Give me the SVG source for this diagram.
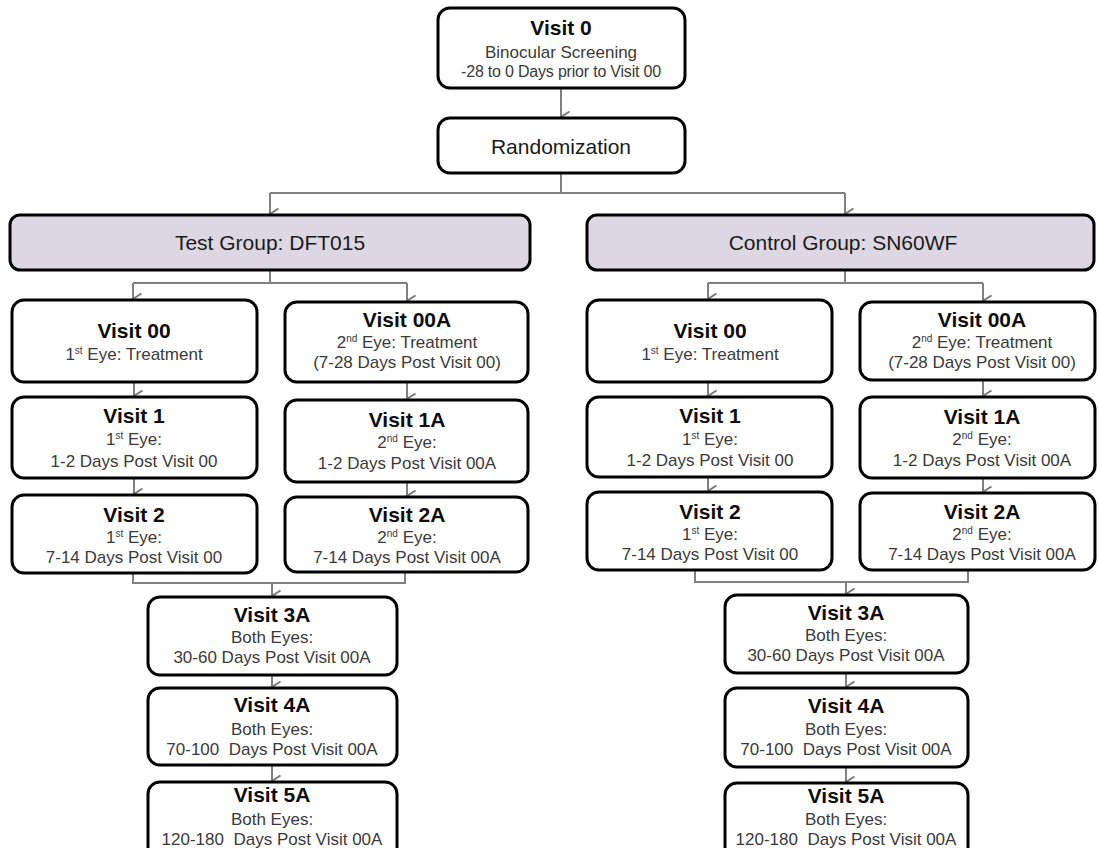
<svg xmlns="http://www.w3.org/2000/svg" width="1098" height="848" viewBox="0 0 1098 848">
<defs>
<style>
.box{fill:#ffffff;stroke:#000000;stroke-width:3}
.grp{fill:#dcd7e2;stroke:#000000;stroke-width:3}
.t{font-family:"Liberation Sans",Arial,sans-serif;font-weight:bold;font-size:21px;fill:#0d0d0d;text-anchor:middle}
.s{font-family:"Liberation Sans",Arial,sans-serif;font-size:17px;fill:#3a3a3a;text-anchor:middle}
.g{font-family:"Liberation Sans",Arial,sans-serif;font-size:21px;fill:#1a1a1a;text-anchor:middle}
.sup{font-size:10px}
.c{fill:none;stroke:#808080;stroke-width:2}
</style>
<marker id="ah" markerWidth="14" markerHeight="12" refX="7" refY="10" orient="auto-start-reverse" markerUnits="userSpaceOnUse" viewBox="0 0 14 12">
<path d="M1.5,1.5 L7,10 L12.5,1.5" fill="none" stroke="#7a7a7a" stroke-width="2"/>
</marker>
</defs>
<rect width="1098" height="848" fill="#ffffff"/>

<g id="connectors">
<path class="c" d="M561,88 V117" marker-end="url(#ah)"/>
<path class="c" d="M561,173 V193 M270,193 H845"/>
<path class="c" d="M270,193 V214" marker-end="url(#ah)"/>
<path class="c" d="M845,193 V214" marker-end="url(#ah)"/>
<path class="c" d="M270,270 V283 M133,283 H407"/>
<path class="c" d="M133,283 V299" marker-end="url(#ah)"/>
<path class="c" d="M407,283 V301" marker-end="url(#ah)"/>
<path class="c" d="M134,382 V396" marker-end="url(#ah)"/>
<path class="c" d="M134,478 V494" marker-end="url(#ah)"/>
<path class="c" d="M407,382 V399" marker-end="url(#ah)"/>
<path class="c" d="M407,482 V496" marker-end="url(#ah)"/>
<path class="c" d="M133,573 V583 H405 V572"/>
<path class="c" d="M272,583 V596" marker-end="url(#ah)"/>
<path class="c" d="M272,675 V687" marker-end="url(#ah)"/>
<path class="c" d="M272,765 V781" marker-end="url(#ah)"/>
<path class="c" d="M845,270 V283 M708,283 H983"/>
<path class="c" d="M708,283 V299" marker-end="url(#ah)"/>
<path class="c" d="M983,283 V301" marker-end="url(#ah)"/>
<path class="c" d="M708,382 V396" marker-end="url(#ah)"/>
<path class="c" d="M708,477 V491" marker-end="url(#ah)"/>
<path class="c" d="M983,380 V396" marker-end="url(#ah)"/>
<path class="c" d="M983,478 V492" marker-end="url(#ah)"/>
<path class="c" d="M695,570 V582 H968 V570"/>
<path class="c" d="M846,582 V594" marker-end="url(#ah)"/>
<path class="c" d="M846,673 V687" marker-end="url(#ah)"/>
<path class="c" d="M846,767 V782" marker-end="url(#ah)"/>
</g>

<g id="visit0">
<rect class="box" x="438" y="8" width="247" height="80" rx="12"/>
<text class="t" x="561" y="35">Visit 0</text>
<text class="s" x="561" y="58">Binocular Screening</text>
<text class="s" x="561" y="77" style="font-size:16px;letter-spacing:-0.2px">-28 to 0 Days prior to Visit 00</text>
</g>
<g id="randomization">
<rect class="box" x="438" y="118" width="247" height="55" rx="12"/>
<text class="g" x="561" y="154">Randomization</text>
</g>

<g id="test-group">
<rect class="grp" x="10" y="215" width="520" height="55" rx="10"/>
<text class="g" x="270" y="250">Test Group: DFT015</text>
</g>
<g id="control-group">
<rect class="grp" x="587" y="215" width="507" height="55" rx="10"/>
<text class="g" x="843" y="250">Control Group: SN60WF</text>
</g>

<g id="t-visit00">
<rect class="box" x="12" y="300" width="245" height="82" rx="12"/>
<text class="t" x="134" y="338">Visit 00</text>
<text class="s" x="134" y="360">1<tspan class="sup" dy="-6">st</tspan><tspan dy="6"> Eye: Treatment</tspan></text>
</g>
<g id="t-visit00a">
<rect class="box" x="285" y="302" width="243" height="80" rx="12"/>
<text class="t" x="407" y="327">Visit 00A</text>
<text class="s" x="407" y="348">2<tspan class="sup" dy="-6">nd</tspan><tspan dy="6"> Eye: Treatment</tspan></text>
<text class="s" x="407" y="368">(7-28 Days Post Visit 00)</text>
</g>
<g id="t-visit1">
<rect class="box" x="12" y="397" width="245" height="81" rx="12"/>
<text class="t" x="134" y="423">Visit 1</text>
<text class="s" x="134" y="445">1<tspan class="sup" dy="-6">st</tspan><tspan dy="6"> Eye:</tspan></text>
<text class="s" x="134" y="467">1-2 Days Post Visit 00</text>
</g>
<g id="t-visit1a">
<rect class="box" x="285" y="400" width="243" height="82" rx="12"/>
<text class="t" x="407" y="427">Visit 1A</text>
<text class="s" x="407" y="448">2<tspan class="sup" dy="-6">nd</tspan><tspan dy="6"> Eye:</tspan></text>
<text class="s" x="407" y="469">1-2 Days Post Visit 00A</text>
</g>
<g id="t-visit2">
<rect class="box" x="12" y="495" width="245" height="78" rx="12"/>
<text class="t" x="134" y="522">Visit 2</text>
<text class="s" x="134" y="543">1<tspan class="sup" dy="-6">st</tspan><tspan dy="6"> Eye:</tspan></text>
<text class="s" x="134" y="563">7-14 Days Post Visit 00</text>
</g>
<g id="t-visit2a">
<rect class="box" x="285" y="497" width="243" height="75" rx="12"/>
<text class="t" x="407" y="522">Visit 2A</text>
<text class="s" x="407" y="543">2<tspan class="sup" dy="-6">nd</tspan><tspan dy="6"> Eye:</tspan></text>
<text class="s" x="407" y="563">7-14 Days Post Visit 00A</text>
</g>
<g id="t-visit3a">
<rect class="box" x="148" y="597" width="249" height="78" rx="12"/>
<text class="t" x="272" y="622">Visit 3A</text>
<text class="s" x="272" y="643">Both Eyes:</text>
<text class="s" x="272" y="663">30-60 Days Post Visit 00A</text>
</g>
<g id="t-visit4a">
<rect class="box" x="148" y="688" width="249" height="77" rx="12"/>
<text class="t" x="272" y="712">Visit 4A</text>
<text class="s" x="272" y="735">Both Eyes:</text>
<text class="s" x="272" y="755" xml:space="preserve">70-100  Days Post Visit 00A</text>
</g>
<g id="t-visit5a">
<rect class="box" x="148" y="782" width="249" height="80" rx="12"/>
<text class="t" x="272" y="802">Visit 5A</text>
<text class="s" x="272" y="825">Both Eyes:</text>
<text class="s" x="272" y="845" xml:space="preserve">120-180  Days Post Visit 00A</text>
</g>

<g id="c-visit00">
<rect class="box" x="587" y="300" width="245" height="82" rx="12"/>
<text class="t" x="710" y="338">Visit 00</text>
<text class="s" x="710" y="360">1<tspan class="sup" dy="-6">st</tspan><tspan dy="6"> Eye: Treatment</tspan></text>
</g>
<g id="c-visit00a">
<rect class="box" x="860" y="302" width="235" height="78" rx="12"/>
<text class="t" x="982" y="327">Visit 00A</text>
<text class="s" x="982" y="348">2<tspan class="sup" dy="-6">nd</tspan><tspan dy="6"> Eye: Treatment</tspan></text>
<text class="s" x="982" y="368">(7-28 Days Post Visit 00)</text>
</g>
<g id="c-visit1">
<rect class="box" x="587" y="397" width="245" height="80" rx="12"/>
<text class="t" x="710" y="423">Visit 1</text>
<text class="s" x="710" y="445">1<tspan class="sup" dy="-6">st</tspan><tspan dy="6"> Eye:</tspan></text>
<text class="s" x="710" y="466">1-2 Days Post Visit 00</text>
</g>
<g id="c-visit1a">
<rect class="box" x="860" y="397" width="235" height="81" rx="12"/>
<text class="t" x="982" y="424">Visit 1A</text>
<text class="s" x="982" y="445">2<tspan class="sup" dy="-6">nd</tspan><tspan dy="6"> Eye:</tspan></text>
<text class="s" x="982" y="466">1-2 Days Post Visit 00A</text>
</g>
<g id="c-visit2">
<rect class="box" x="587" y="492" width="245" height="78" rx="12"/>
<text class="t" x="710" y="519">Visit 2</text>
<text class="s" x="710" y="540">1<tspan class="sup" dy="-6">st</tspan><tspan dy="6"> Eye:</tspan></text>
<text class="s" x="710" y="560">7-14 Days Post Visit 00</text>
</g>
<g id="c-visit2a">
<rect class="box" x="860" y="493" width="235" height="77" rx="12"/>
<text class="t" x="982" y="519">Visit 2A</text>
<text class="s" x="982" y="540">2<tspan class="sup" dy="-6">nd</tspan><tspan dy="6"> Eye:</tspan></text>
<text class="s" x="982" y="560">7-14 Days Post Visit 00A</text>
</g>
<g id="c-visit3a">
<rect class="box" x="725" y="595" width="243" height="78" rx="12"/>
<text class="t" x="846" y="620">Visit 3A</text>
<text class="s" x="846" y="641">Both Eyes:</text>
<text class="s" x="846" y="661">30-60 Days Post Visit 00A</text>
</g>
<g id="c-visit4a">
<rect class="box" x="725" y="688" width="243" height="79" rx="12"/>
<text class="t" x="846" y="713">Visit 4A</text>
<text class="s" x="846" y="735">Both Eyes:</text>
<text class="s" x="846" y="755" xml:space="preserve">70-100  Days Post Visit 00A</text>
</g>
<g id="c-visit5a">
<rect class="box" x="725" y="783" width="243" height="80" rx="12"/>
<text class="t" x="846" y="803">Visit 5A</text>
<text class="s" x="846" y="825">Both Eyes:</text>
<text class="s" x="846" y="845" xml:space="preserve">120-180  Days Post Visit 00A</text>
</g>
</svg>
